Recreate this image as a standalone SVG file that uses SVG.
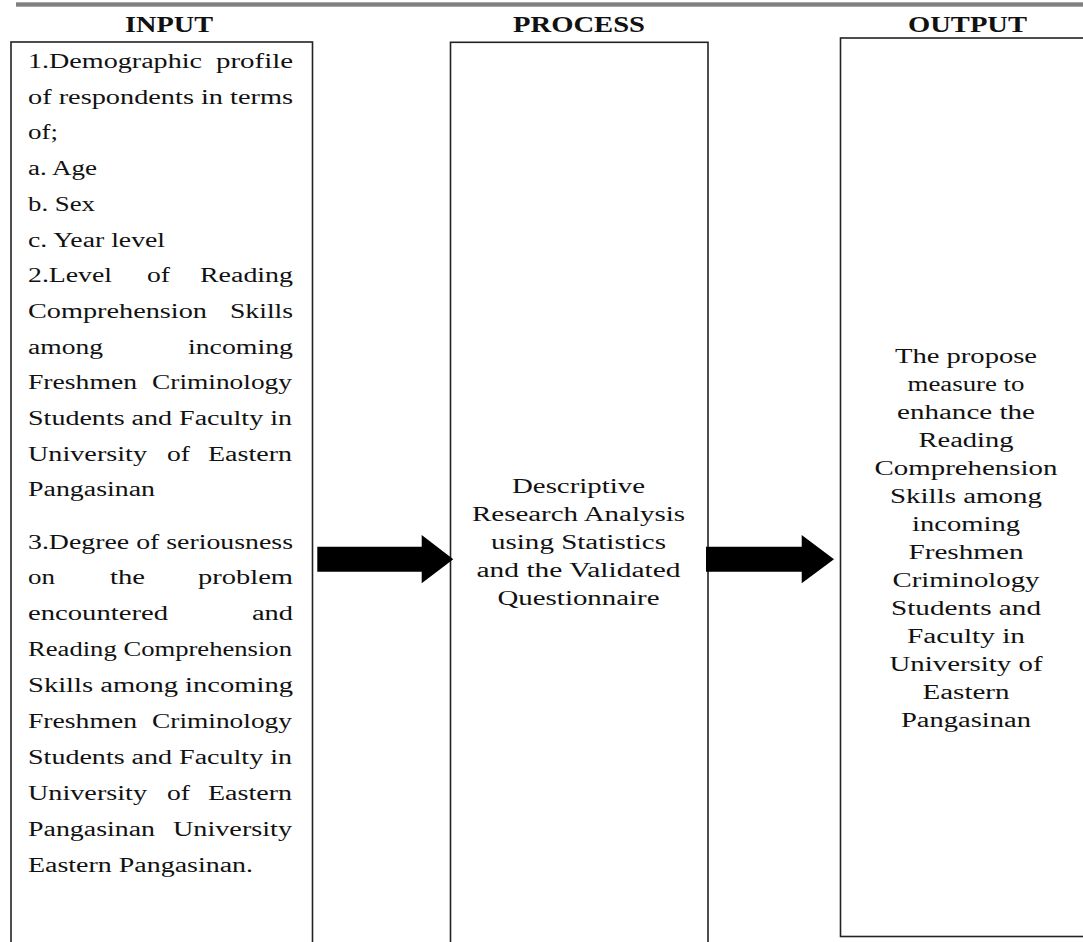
<svg xmlns="http://www.w3.org/2000/svg" width="1083" height="942" viewBox="0 0 1083 942">
<style>
.box{fill:#fff;stroke:#222;stroke-width:1.6}
.h{font-family:"Liberation Serif","Times New Roman",serif;font-weight:bold;font-size:24px;fill:#111;text-anchor:middle}
.b{font-family:"Liberation Serif","Times New Roman",serif;font-size:20px;fill:#111}
.c{font-family:"Liberation Serif","Times New Roman",serif;font-size:20px;fill:#111;text-anchor:middle}
.arr{fill:#000}
</style>
<rect x="0" y="0" width="1083" height="942" fill="#fff"/>
<rect x="16" y="2.3" width="1070" height="4.4" fill="#808080"/>

<g id="input">
<rect class="box" x="11" y="42" width="301.5" height="920"/>
<text class="h" x="169" y="32" textLength="88" lengthAdjust="spacingAndGlyphs">INPUT</text>
<g class="b" lengthAdjust="spacingAndGlyphs">
<text x="28" y="68" textLength="174" lengthAdjust="spacingAndGlyphs">1.Demographic</text>
<text x="216" y="68" textLength="77" lengthAdjust="spacingAndGlyphs">profile</text>
<text x="28" y="103.7" textLength="265" lengthAdjust="spacingAndGlyphs">of respondents in terms</text>
<text x="28" y="139.4" textLength="30" lengthAdjust="spacingAndGlyphs">of;</text>
<text x="28" y="175.1" textLength="69" lengthAdjust="spacingAndGlyphs">a. Age</text>
<text x="28" y="210.8" textLength="67" lengthAdjust="spacingAndGlyphs">b. Sex</text>
<text x="28" y="246.5" textLength="137" lengthAdjust="spacingAndGlyphs">c. Year level</text>
<text x="28" y="282.2" textLength="84" lengthAdjust="spacingAndGlyphs">2.Level</text>
<text x="147" y="282.2" textLength="23" lengthAdjust="spacingAndGlyphs">of</text>
<text x="200" y="282.2" textLength="93" lengthAdjust="spacingAndGlyphs">Reading</text>
<text x="28" y="317.9" textLength="179" lengthAdjust="spacingAndGlyphs">Comprehension</text>
<text x="230" y="317.9" textLength="63" lengthAdjust="spacingAndGlyphs">Skills</text>
<text x="28" y="353.6" textLength="75" lengthAdjust="spacingAndGlyphs">among</text>
<text x="188" y="353.6" textLength="105" lengthAdjust="spacingAndGlyphs">incoming</text>
<text x="28" y="389.3" textLength="109" lengthAdjust="spacingAndGlyphs">Freshmen</text>
<text x="152" y="389.3" textLength="140" lengthAdjust="spacingAndGlyphs">Criminology</text>
<text x="28" y="425" textLength="264" lengthAdjust="spacingAndGlyphs">Students and Faculty in</text>
<text x="28" y="460.7" textLength="119" lengthAdjust="spacingAndGlyphs">University</text>
<text x="167" y="460.7" textLength="23" lengthAdjust="spacingAndGlyphs">of</text>
<text x="208" y="460.7" textLength="84" lengthAdjust="spacingAndGlyphs">Eastern</text>
<text x="28" y="496.4" textLength="127" lengthAdjust="spacingAndGlyphs">Pangasinan</text>
<text x="28" y="548.5" textLength="265" lengthAdjust="spacingAndGlyphs">3.Degree of seriousness</text>
<text x="28" y="584.4" textLength="27" lengthAdjust="spacingAndGlyphs">on</text>
<text x="110" y="584.4" textLength="35" lengthAdjust="spacingAndGlyphs">the</text>
<text x="198" y="584.4" textLength="95" lengthAdjust="spacingAndGlyphs">problem</text>
<text x="28" y="620.3" textLength="140" lengthAdjust="spacingAndGlyphs">encountered</text>
<text x="252" y="620.3" textLength="41" lengthAdjust="spacingAndGlyphs">and</text>
<text x="28" y="656.2" textLength="264" lengthAdjust="spacingAndGlyphs">Reading Comprehension</text>
<text x="28" y="692.1" textLength="265" lengthAdjust="spacingAndGlyphs">Skills among incoming</text>
<text x="28" y="728" textLength="109" lengthAdjust="spacingAndGlyphs">Freshmen</text>
<text x="152" y="728" textLength="140" lengthAdjust="spacingAndGlyphs">Criminology</text>
<text x="28" y="763.9" textLength="264" lengthAdjust="spacingAndGlyphs">Students and Faculty in</text>
<text x="28" y="799.8" textLength="119" lengthAdjust="spacingAndGlyphs">University</text>
<text x="167" y="799.8" textLength="23" lengthAdjust="spacingAndGlyphs">of</text>
<text x="208" y="799.8" textLength="84" lengthAdjust="spacingAndGlyphs">Eastern</text>
<text x="28" y="835.7" textLength="127" lengthAdjust="spacingAndGlyphs">Pangasinan</text>
<text x="173" y="835.7" textLength="119" lengthAdjust="spacingAndGlyphs">University</text>
<text x="28" y="871.6" textLength="225" lengthAdjust="spacingAndGlyphs">Eastern Pangasinan.</text>
</g>
</g>

<g id="process">
<rect class="box" x="450.5" y="42.3" width="257.5" height="920"/>
<text class="h" x="579" y="32" textLength="132" lengthAdjust="spacingAndGlyphs">PROCESS</text>
<text class="c" x="578.5" y="493" textLength="133" lengthAdjust="spacingAndGlyphs">Descriptive</text>
<text class="c" x="578.5" y="521" textLength="213" lengthAdjust="spacingAndGlyphs">Research Analysis</text>
<text class="c" x="578.5" y="549" textLength="175" lengthAdjust="spacingAndGlyphs">using Statistics</text>
<text class="c" x="578.5" y="577" textLength="204" lengthAdjust="spacingAndGlyphs">and the Validated</text>
<text class="c" x="578.5" y="605" textLength="162" lengthAdjust="spacingAndGlyphs">Questionnaire</text>
</g>

<g id="output">
<rect class="box" x="840.5" y="38" width="260" height="898.5"/>
<text class="h" x="967.5" y="32" textLength="119" lengthAdjust="spacingAndGlyphs">OUTPUT</text>
<text class="c" x="966" y="363" textLength="142" lengthAdjust="spacingAndGlyphs">The propose</text>
<text class="c" x="966" y="391" textLength="117" lengthAdjust="spacingAndGlyphs">measure to</text>
<text class="c" x="966" y="419" textLength="138" lengthAdjust="spacingAndGlyphs">enhance the</text>
<text class="c" x="966" y="447" textLength="95" lengthAdjust="spacingAndGlyphs">Reading</text>
<text class="c" x="966" y="475" textLength="183" lengthAdjust="spacingAndGlyphs">Comprehension</text>
<text class="c" x="966" y="503" textLength="152" lengthAdjust="spacingAndGlyphs">Skills among</text>
<text class="c" x="966" y="531" textLength="108" lengthAdjust="spacingAndGlyphs">incoming</text>
<text class="c" x="966" y="559" textLength="115" lengthAdjust="spacingAndGlyphs">Freshmen</text>
<text class="c" x="966" y="587" textLength="147" lengthAdjust="spacingAndGlyphs">Criminology</text>
<text class="c" x="966" y="615" textLength="150" lengthAdjust="spacingAndGlyphs">Students and</text>
<text class="c" x="966" y="643" textLength="118" lengthAdjust="spacingAndGlyphs">Faculty in</text>
<text class="c" x="966" y="671" textLength="153" lengthAdjust="spacingAndGlyphs">University of</text>
<text class="c" x="966" y="699" textLength="87" lengthAdjust="spacingAndGlyphs">Eastern</text>
<text class="c" x="966" y="727" textLength="130" lengthAdjust="spacingAndGlyphs">Pangasinan</text>
</g>

<g id="connectors">
<polygon class="arr" points="317.3,546.7 421.7,546.7 421.7,535 453.3,559.3 421.7,583.3 421.7,571.7 317.3,571.7"/>
<polygon class="arr" points="706,546.7 801.7,546.7 801.7,535 834,559.3 801.7,583.3 801.7,571.7 706,571.7"/>
</g>
</svg>
